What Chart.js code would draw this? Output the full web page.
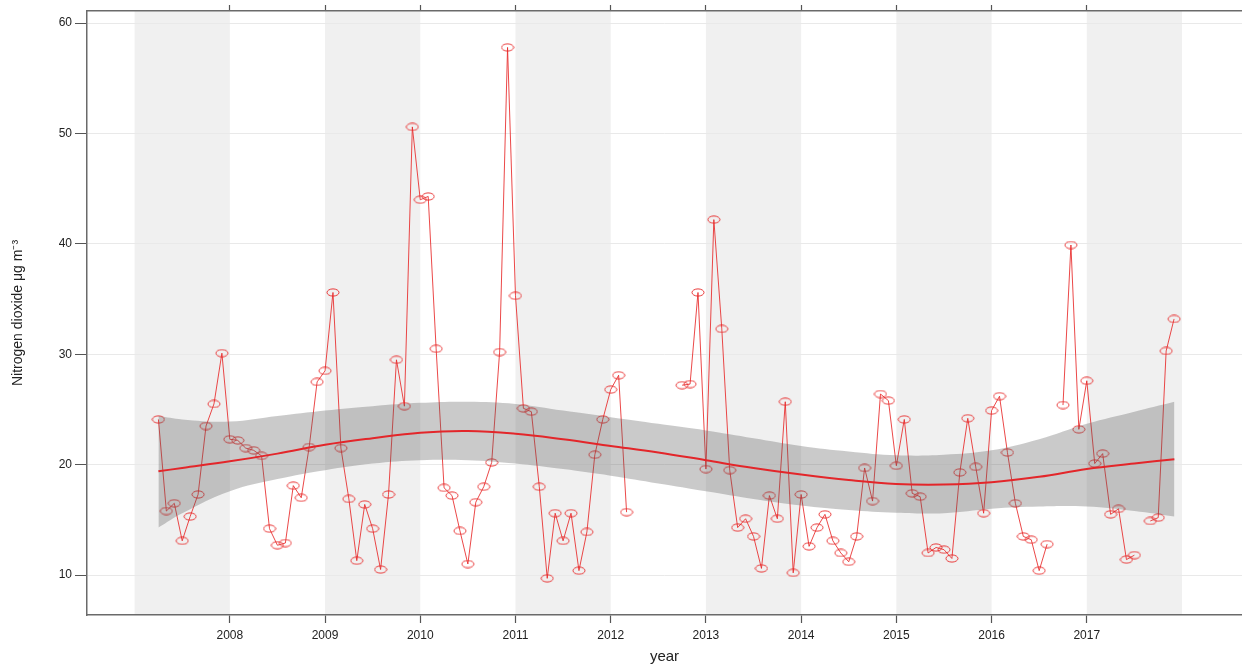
<!DOCTYPE html>
<html>
<head>
<meta charset="utf-8">
<title>Nitrogen dioxide trend</title>
<script src="https://cdn.jsdelivr.net/npm/chart.js@4.4.1/dist/chart.umd.min.js"></script>
<style>
  html, body { margin: 0; padding: 0; background: #fff; overflow: hidden; }
  #wrap { width: 1242px; height: 666px; overflow: hidden; }
</style>
</head>
<body>
<div id="wrap"><canvas id="no2Chart" width="1248" height="666"></canvas></div>
<script>
/* ── data ────────────────────────────────────────────────── */
const MONTHS = [
  '2007-04','2007-05','2007-06','2007-07','2007-08','2007-09','2007-10','2007-11','2007-12',
  '2008-01','2008-02','2008-03','2008-04','2008-05','2008-06','2008-07','2008-08','2008-09','2008-10','2008-11','2008-12',
  '2009-01','2009-02','2009-03','2009-04','2009-05','2009-06','2009-07','2009-08','2009-09','2009-10','2009-11','2009-12',
  '2010-01','2010-02','2010-03','2010-04','2010-05','2010-06','2010-07','2010-08','2010-09','2010-10','2010-11','2010-12',
  '2011-01','2011-02','2011-03','2011-04','2011-05','2011-06','2011-07','2011-08','2011-09','2011-10','2011-11','2011-12',
  '2012-01','2012-02','2012-03','2012-04','2012-05','2012-06','2012-07','2012-08','2012-09','2012-10','2012-11','2012-12',
  '2013-01','2013-02','2013-03','2013-04','2013-05','2013-06','2013-07','2013-08','2013-09','2013-10','2013-11','2013-12',
  '2014-01','2014-02','2014-03','2014-04','2014-05','2014-06','2014-07','2014-08','2014-09','2014-10','2014-11','2014-12',
  '2015-01','2015-02','2015-03','2015-04','2015-05','2015-06','2015-07','2015-08','2015-09','2015-10','2015-11','2015-12',
  '2016-01','2016-02','2016-03','2016-04','2016-05','2016-06','2016-07','2016-08','2016-09','2016-10','2016-11','2016-12',
  '2017-01','2017-02','2017-03','2017-04','2017-05','2017-06','2017-07','2017-08','2017-09','2017-10','2017-11','2017-12'
];
const NO2 = [
  24.1, 15.8, 16.5, 13.1, 15.3, 17.3, 23.5, 25.5, 30.1,
  22.3, 22.2, 21.5, 21.3, 20.8, 14.2, 12.7, 12.9, 18.1, 17.0, 21.6, 27.5,
  28.5, 35.6, 21.5, 16.9, 11.3, 16.4, 14.2, 10.5, 17.3, 29.5, 25.3, 50.6,
  44.0, 44.3, 30.5, 17.9, 17.2, 14.0, 11.0, 16.6, 18.0, 20.2, 30.2, 57.8,
  35.3, 25.1, 24.8, 18.0, 9.7, 15.6, 13.1, 15.6, 10.4, 13.9, 20.9, 24.1,
  26.8, 28.1, 15.7, null, null, null, null, null, null, 27.2, 27.3, 35.6,
  19.6, 42.2, 32.3, 19.5, 14.3, 15.1, 13.5, 10.6, 17.2, 15.1, 25.7, 10.2,
  17.3, 12.6, 14.3, 15.5, 13.1, 12.0, 11.2, 13.5, 19.7, 16.7, 26.4, 25.8,
  19.9, 24.1, 17.4, 17.1, 12.0, 12.5, 12.3, 11.5, 19.3, 24.2, 19.8, 15.6,
  24.9, 26.2, 21.1, 16.5, 13.5, 13.2, 10.4, 12.8, null, 25.4, 39.9, 23.2,
  27.6, 20.1, 21.0, 15.5, 16.0, 11.4, 11.8, null, 14.9, 15.2, 30.3, 33.2
];

// smooth trend and its confidence band
const TREND_X = [2007.25, 2007.5, 2008, 2008.5, 2009, 2009.5, 2010, 2010.5, 2011, 2011.5, 2012, 2012.5,
                 2013, 2013.5, 2014, 2014.5, 2015, 2015.5, 2016, 2016.5, 2017, 2017.5, 2017.92];
const TREND   = [19.4, 19.7, 20.3, 21.0, 21.8, 22.4, 22.9, 23.05, 22.8, 22.3, 21.7, 21.1,
                 20.4, 19.7, 19.1, 18.6, 18.25, 18.2, 18.4, 18.9, 19.6, 20.1, 20.5];
const UPPER   = [24.4, 24.1, 23.9, 24.4, 24.9, 25.3, 25.6, 25.7, 25.5, 24.9, 24.3, 23.7,
                 23.1, 22.4, 21.7, 21.2, 20.85, 20.9, 21.3, 22.3, 23.7, 24.8, 25.7];
const LOWER   = [14.3, 15.6, 17.6, 18.7, 19.5, 20.1, 20.4, 20.4, 20.1, 19.6, 19.0, 18.3,
                 17.6, 16.9, 16.3, 15.9, 15.65, 15.6, 16.0, 16.2, 16.2, 15.8, 15.3];

const YEAR_TICKS = [2008, 2009, 2010, 2011, 2012, 2013, 2014, 2015, 2016, 2017];
const BAND_YEARS = [2007, 2009, 2011, 2013, 2015, 2017];
const Y_TICKS    = [10, 20, 30, 40, 50, 60];

/* ── helpers ─────────────────────────────────────────────── */
const toYear = m => { const [y, mo] = m.split('-').map(Number); return y + (mo - 1) / 12; };
const pts = (xs, ys) => xs.map((x, i) => ({ x, y: ys[i] }));

// open ellipse marker like the lattice plot symbol
function ellipseMarker() {
  const c = document.createElement('canvas');
  c.width = 14; c.height = 9;
  const g = c.getContext('2d');
  g.strokeStyle = 'rgba(232,40,40,0.9)';
  g.lineWidth = 1;
  g.beginPath();
  g.ellipse(7, 4.5, 6, 3.6, 0, 0, Math.PI * 2);
  g.stroke();
  return c;
}

// grey bands for alternate years, behind everything
const yearBands = {
  id: 'yearBands',
  beforeDraw(chart) {
    const { ctx, chartArea: a, scales: { x } } = chart;
    ctx.save();
    ctx.fillStyle = '#f0f0f0';
    BAND_YEARS.forEach(yr => {
      const l = x.getPixelForValue(yr), r = x.getPixelForValue(yr + 1);
      ctx.fillRect(l, a.top, r - l, a.bottom - a.top);
    });
    ctx.restore();
  }
};

const FONT = "'Liberation Sans Narrow', 'Liberation Sans', Arial, sans-serif";
const tickFont = { family: FONT, size: 12 };

new Chart(document.getElementById('no2Chart'), {
  type: 'line',
  data: {
    datasets: [
      {
        label: 'trend', data: pts(TREND_X, TREND),
        borderColor: '#e3262a', borderWidth: 2, pointRadius: 0,
        tension: 0.4, fill: false, order: 1,
      },
      {
        label: 'upper', data: pts(TREND_X, UPPER),
        borderWidth: 0, borderColor: 'rgba(0,0,0,0)', pointRadius: 0, tension: 0.4,
        backgroundColor: 'rgba(90,90,90,0.32)', fill: 2, order: 2,
      },
      {
        label: 'lower', data: pts(TREND_X, LOWER),
        borderWidth: 0, borderColor: 'rgba(0,0,0,0)', pointRadius: 0, tension: 0.4,
        fill: false, order: 2,
      },
      {
        label: 'NO2', data: pts(MONTHS.map(toYear), NO2),
        borderColor: 'rgba(232,40,40,0.85)', borderWidth: 1,
        pointStyle: ellipseMarker(), pointRadius: 5,
        spanGaps: false, fill: false, tension: 0, order: 3,
      },
    ],
  },
  options: {
    responsive: false, animation: false,
    layout: { padding: 0 },
    plugins: { legend: { display: false }, tooltip: { enabled: false } },
    scales: {
      x: {
        type: 'linear', position: 'bottom', min: 2006.5, max: 2018.63,
        afterBuildTicks: s => { s.ticks = YEAR_TICKS.map(v => ({ value: v })); },
        afterFit: s => { s.height = 51; },
        ticks: { callback: v => String(v), color: '#222', font: tickFont, padding: 5, maxRotation: 0, autoSkip: false },
        grid: { drawOnChartArea: false, tickLength: 8, tickColor: '#555', tickWidth: 1.2 },
        border: { color: '#6a6a6a', width: 1.5 },
        title: { display: true, text: 'year', color: '#222', padding: 0, font: { family: FONT, size: 15 } },
      },
      xTop: {
        type: 'linear', position: 'top', min: 2006.5, max: 2018.63,
        afterBuildTicks: s => { s.ticks = YEAR_TICKS.map(v => ({ value: v })); },
        afterFit: s => { s.height = 11; },
        ticks: { display: false },
        grid: { drawOnChartArea: false, tickLength: 6, tickColor: '#555', tickWidth: 1.2 },
        border: { color: '#6a6a6a', width: 1.5 },
      },
      y: {
        type: 'linear', min: 6.38, max: 61.1,
        afterBuildTicks: s => { s.ticks = Y_TICKS.map(v => ({ value: v })); },
        afterFit: s => { s.width = 87; },
        ticks: { color: '#222', font: tickFont, padding: 3 },
        grid: { color: '#e9e9e9', lineWidth: 1, tickLength: 12, tickColor: '#555' },
        border: { color: '#6a6a6a', width: 1.5 },
        title: { display: true, text: 'Nitrogen dioxide μg m⁻³', color: '#222',
                 padding: { top: 10, bottom: 0 }, font: { family: FONT, size: 14 } },
      },
    },
  },
  plugins: [yearBands],
});
</script>
</body>
</html>
